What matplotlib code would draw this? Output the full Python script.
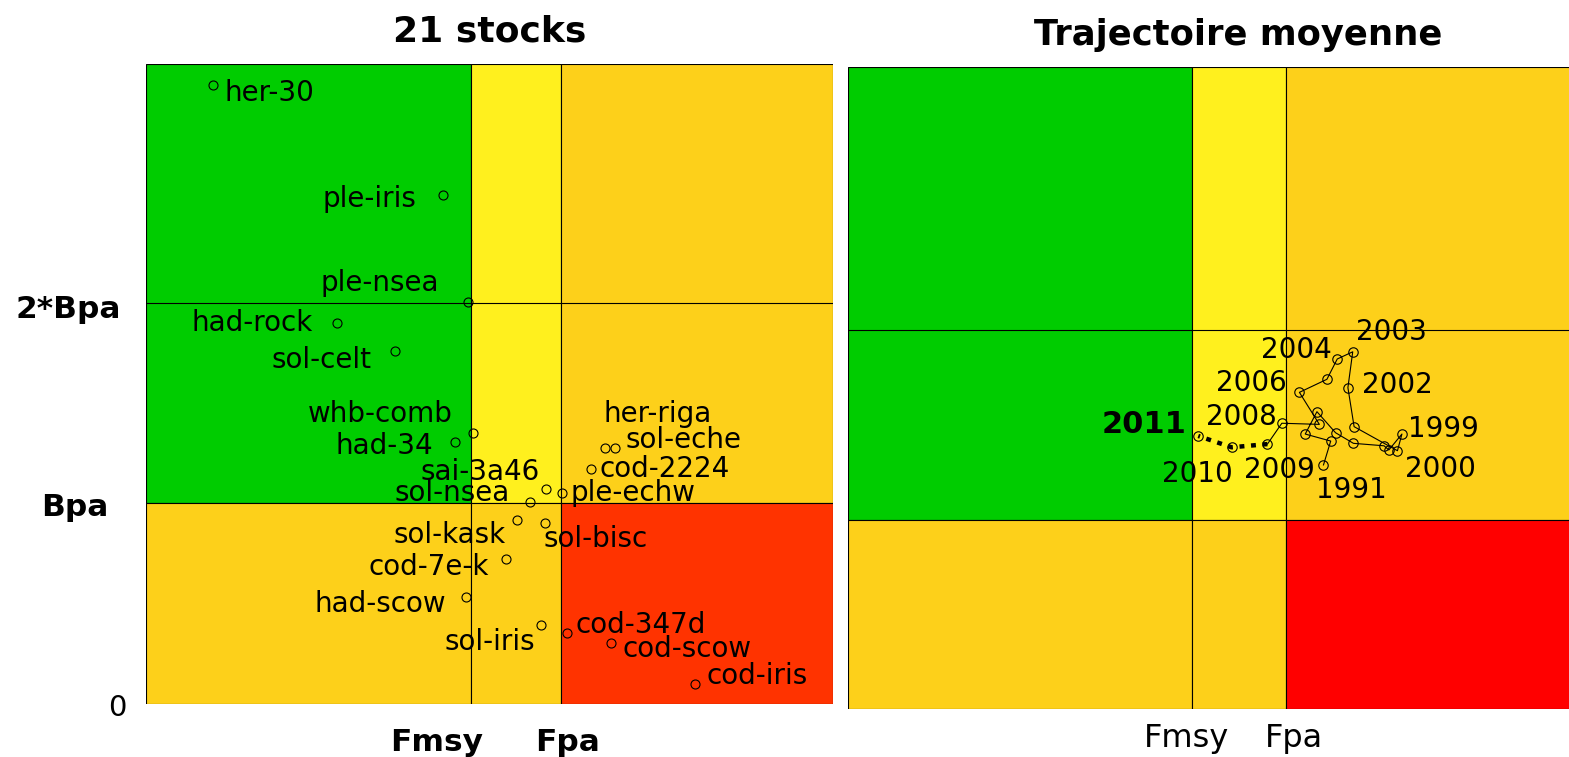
import matplotlib.pyplot as plt
from matplotlib.patches import Rectangle

# left panel : F/Fmsy and B/Bpa of the 21 stocks
stocks = ['her-30', 'ple-iris', 'ple-nsea', 'had-rock', 'sol-celt', 'whb-comb', 'had-34',
          'sai-3a46', 'ple-echw', 'sol-nsea', 'sol-kask', 'sol-bisc', 'cod-7e-k', 'had-scow',
          'sol-iris', 'cod-347d', 'cod-scow', 'cod-iris', 'her-riga', 'sol-eche', 'cod-2224']
f_rel = [0.206, 0.914, 0.991, 0.588, 0.766, 1.005, 0.951,
         1.231, 1.280, 1.182, 1.142, 1.228, 1.108, 0.985,
         1.215, 1.295, 1.431, 1.689, 1.412, 1.443, 1.369]
b_rel = [3.087, 2.539, 2.005, 1.900, 1.761, 1.353, 1.307,
         1.072, 1.052, 1.007, 0.918, 0.903, 0.723, 0.534,
         0.394, 0.354, 0.304, 0.100, 1.277, 1.277, 1.172]

# right panel : mean trajectory
years = list(range(1991, 2012))
traj_f = [1.382, 1.403, 1.329, 1.363, 1.417, 1.469, 1.558, 1.572, 1.610, 1.597, 1.471,
          1.453, 1.467, 1.422, 1.392, 1.312, 1.370, 1.261, 1.219, 1.115, 1.018]
traj_b = [1.288, 1.414, 1.451, 1.569, 1.458, 1.402, 1.389, 1.367, 1.451, 1.363, 1.490,
          1.696, 1.885, 1.847, 1.740, 1.671, 1.502, 1.508, 1.398, 1.381, 1.441]

# reference points (Fmsy = 1, Bpa = 1)
fpa_left, fpa_right = 1.277, 1.273

GREEN = '#00CC00'
YELLOW = '#FFF01E'
ORANGE = '#FDD01A'

# label offsets in pixels (ha, dx, dy), dy positive downwards
stock_lab = [('left', 12, 16), ('right', -27, 12), ('center', -88, -11), ('right', -24, 8),
             ('right', -23, 17), ('right', -20, -11), ('right', -22, 12), ('center', -66, -9),
             ('left', 9, 8), ('center', -78, -1), ('right', -11, 23), ('left', -2, 24),
             ('right', -17, 16), ('right', -20, 15), ('center', -51, 25), ('left', 9, 0),
             ('left', 11, 14), ('left', 12, 0), ('center', 53, -26), ('left', 11, 0),
             ('left', 9, 8)]
year_lab = {1991: ('left', -7, 33), 1999: ('left', 6, 3), 2000: ('left', 8, 26),
            2002: ('left', 14, 5), 2003: ('left', 3, -12), 2004: ('right', -5, -1),
            2006: ('right', -13, -1), 2008: ('right', -5, 2), 2009: ('center', 12, 34),
            2010: ('center', -34, 35)}

PX = 0.72  # px -> points at dpi 100


def draw_zones(ax, fpa, xmax, ymax, red):
    cells = [(0, 1, 1, ymax, GREEN), (1, fpa, 1, ymax, YELLOW), (fpa, xmax, 1, ymax, ORANGE),
             (0, 1, 0, 1, ORANGE), (1, fpa, 0, 1, ORANGE), (fpa, xmax, 0, 1, red)]
    for x0, x1, y0, y1, c in cells:
        ax.add_patch(Rectangle((x0, y0), x1 - x0, y1 - y0, facecolor=c,
                               edgecolor='black', lw=0.8, zorder=1))
    ax.axhline(2, color='black', lw=0.8, zorder=2)
    ax.set_xlim(0, xmax)
    ax.set_ylim(0, ymax)
    ax.set_xticks([])
    ax.set_yticks([])
    for s in ax.spines.values():
        s.set_visible(False)


def lab(ax, txt, xy, ha, dx, dy, coords='data', **kw):
    ax.annotate(txt, xy=xy, xycoords=coords, xytext=(dx * PX, -dy * PX),
                textcoords='offset points', ha=ha, va='baseline', annotation_clip=False, **kw)


fig = plt.figure(figsize=(15.69, 7.57), dpi=100)

# ---- left panel
ax1 = fig.add_axes([146 / 1569, 53 / 757, 687 / 1569, 640 / 757])
draw_zones(ax1, fpa_left, 2.114, 3.192, '#FF3300')
ax1.plot(f_rel, b_rel, 'o', mfc='none', mec='black', ms=6.5, mew=0.8, zorder=3)
for name, x, y, (ha, dx, dy) in zip(stocks, f_rel, b_rel, stock_lab):
    lab(ax1, name, (x, y), ha, dx, dy, fontsize=20, zorder=4)

bold = dict(fontsize=22.5, fontweight='bold')
lab(ax1, 'Fmsy', (1, 0), 'center', -34, 47, coords=('data', 'axes fraction'), **bold)
lab(ax1, 'Fpa', (fpa_left, 0), 'center', 7, 47, coords=('data', 'axes fraction'), **bold)
lab(ax1, '2*Bpa', (0, 2), 'right', -25, 15, coords=('axes fraction', 'data'), **bold)
lab(ax1, 'Bpa', (0, 1), 'right', -37, 13, coords=('axes fraction', 'data'), **bold)
lab(ax1, '0', (0, 0), 'right', -19, 12, coords=('axes fraction', 'data'), fontsize=21)
fig.text(489.5 / 1569, 1 - 41 / 757, '21 stocks', ha='center', va='baseline',
         fontsize=26, fontweight='bold')

# ---- right panel (runs past the figure edge)
ax2 = fig.add_axes([848 / 1569, 48 / 757, 781 / 1569, 642 / 757])
draw_zones(ax2, fpa_right, 2.270, 3.388, '#FF0000')
ax2.plot(traj_f[:19], traj_b[:19], '-', color='black', lw=0.8, zorder=3)
ax2.plot(traj_f[18:], traj_b[18:], color='black', lw=3.2, linestyle=(0, (1.1, 1.5)), zorder=3)
ax2.plot(traj_f, traj_b, 'o', mfc='none', mec='black', ms=6.8, mew=0.8, zorder=4)
for yr, x, y in zip(years, traj_f, traj_b):
    if yr in year_lab:
        ha, dx, dy = year_lab[yr]
        lab(ax2, str(yr), (x, y), ha, dx, dy, fontsize=20, zorder=5)
lab(ax2, '2011', (traj_f[-1], traj_b[-1]), 'right', -12, -3, fontsize=22, fontweight='bold', zorder=5)

lab(ax2, 'Fmsy', (1, 0), 'center', -5, 38, coords=('data', 'axes fraction'), fontsize=23)
lab(ax2, 'Fpa', (fpa_right, 0), 'center', 8, 38, coords=('data', 'axes fraction'), fontsize=23)
fig.text(1238.5 / 1569, 1 - 45 / 757, 'Trajectoire moyenne', ha='center', va='baseline',
         fontsize=25.5, fontweight='bold')

fig.savefig('out.png', dpi=100)
